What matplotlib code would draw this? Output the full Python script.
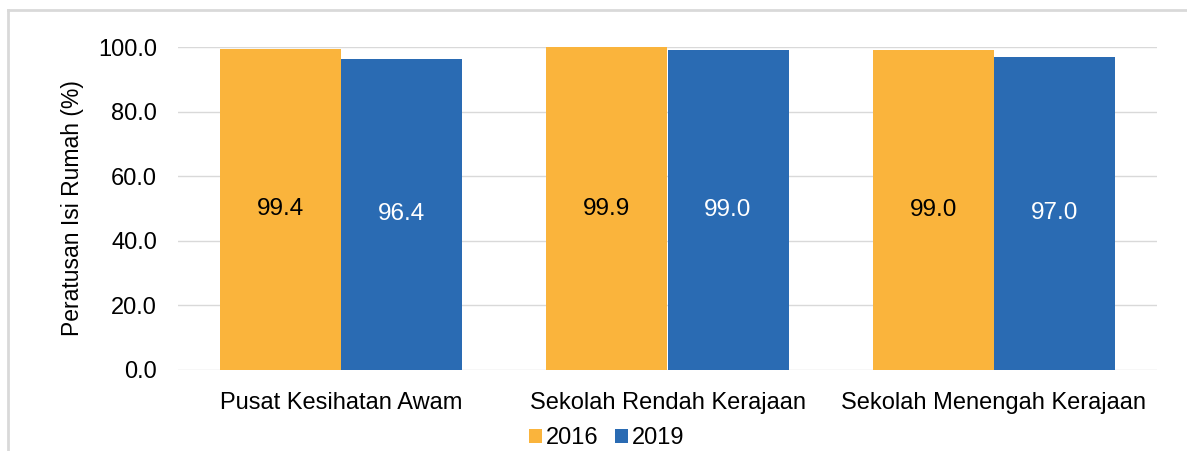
import numpy as np
import matplotlib.pyplot as plt
from matplotlib.lines import Line2D

plt.rcParams['font.family'] = ['Liberation Sans', 'DejaVu Sans']

categories = ["Pusat Kesihatan Awam", "Sekolah Rendah Kerajaan", "Sekolah Menengah Kerajaan"]
val_2016 = [99.4, 99.9, 99.0]
val_2019 = [96.4, 99.0, 97.0]
yticks = [0, 20, 40, 60, 80, 100]

orange = "#FAB43C"
blue = "#2A6BB3"

fig = plt.figure(figsize=(11.87, 4.51), dpi=100)
ax = fig.add_axes([178/1187, 1 - 370/451, (1157-178)/1187, (370-47)/451])

x = np.arange(len(categories))
w = 0.371
b1 = ax.bar(x - w/2, val_2016, w, color=orange, label="2016", zorder=3)
b2 = ax.bar(x + w/2, val_2019, w, color=blue, label="2019", zorder=3)

# value labels centred in each bar
for rect, v in zip(b1, val_2016):
    ax.text(rect.get_x() + rect.get_width()/2, v/2, f"{v:.1f}", ha='center', va='center',
            fontsize=17.5, color='black', zorder=4)
for rect, v in zip(b2, val_2019):
    ax.text(rect.get_x() + rect.get_width()/2, v/2, f"{v:.1f}", ha='center', va='center',
            fontsize=17.5, color='white', zorder=4)

ax.set_xlim(-0.5, len(categories) - 0.5)
ax.set_ylim(0, 100)
ax.set_yticks(yticks)
ax.set_yticklabels([f"{t:.1f}" for t in yticks], fontsize=17)
ax.set_xticks(x)
ax.set_xticklabels(categories, fontsize=17)
ax.tick_params(length=0)
ax.tick_params(axis='y', pad=15)
ax.tick_params(axis='x', pad=15.5)
ax.grid(axis='y', color='#D9D9D9', linewidth=1, zorder=0)
for s in ax.spines.values():
    s.set_visible(False)
ax.set_ylabel("Peratusan Isi Rumah (%)", fontsize=16.5, labelpad=10)

ax.legend(loc='center', bbox_to_anchor=(0.438, -0.212), ncol=2, frameon=False,
          fontsize=17, handlelength=0.55, handleheight=0.55, handletextpad=0.15,
          columnspacing=0.7, borderpad=0)

# outer border (top and left visible)
fig.add_artist(Line2D([8/1187, 1], [1 - 10/451, 1 - 10/451], color='#D9D9D9', lw=2))
fig.add_artist(Line2D([8/1187, 8/1187], [0, 1 - 10/451], color='#D9D9D9', lw=2))

fig.savefig("out.png", dpi=100)
